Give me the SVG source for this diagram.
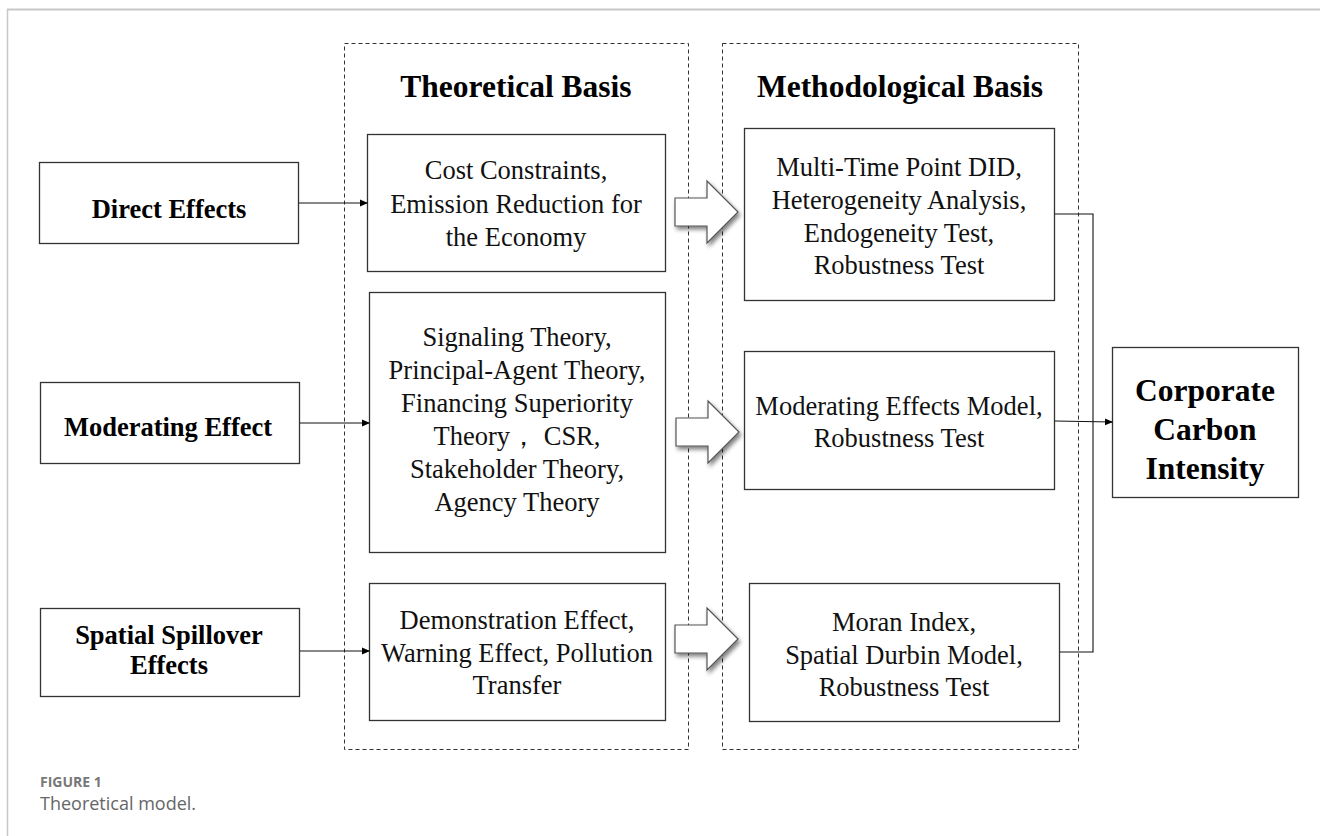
<svg xmlns="http://www.w3.org/2000/svg" width="1320" height="836" viewBox="0 0 1320 836">
<defs>
<marker id="ah" markerWidth="8" markerHeight="8" refX="7" refY="4" orient="auto" markerUnits="userSpaceOnUse">
<path d="M0,0.5 L8,4 L0,7.5 Z" fill="#000"/>
</marker>
<filter id="sh" x="-20%" y="-20%" width="150%" height="150%">
<feGaussianBlur in="SourceAlpha" stdDeviation="2"/>
<feOffset dx="2" dy="3" result="b"/>
<feComponentTransfer><feFuncA type="linear" slope="0.5"/></feComponentTransfer>
<feMerge><feMergeNode/><feMergeNode in="SourceGraphic"/></feMerge>
</filter>
<path id="barrow" d="M0,-14 L32,-14 L32,-31 L63,0 L32,31 L32,14 L0,14 Z"/>
</defs>
<style>
.box{fill:#fff;stroke:#333;stroke-width:1.3}
.dash{fill:none;stroke:#333;stroke-width:1;stroke-dasharray:4,3}
.t{font-family:"Liberation Serif","Times New Roman",serif;font-size:26.5px;fill:#111;text-anchor:middle}
.b{font-family:"Liberation Serif","Times New Roman",serif;font-weight:bold;font-size:26.5px;fill:#000;text-anchor:middle}
.h{font-family:"Liberation Serif","Times New Roman",serif;font-weight:bold;font-size:31.5px;fill:#000;text-anchor:middle}
.c{font-family:"Liberation Serif","Times New Roman",serif;font-weight:bold;font-size:31.5px;fill:#000;text-anchor:middle}
.ln{fill:none;stroke:#111;stroke-width:1.1}
.ba{fill:#fff;stroke:#555;stroke-width:1.2}
</style>
<rect width="1320" height="836" fill="#fff"/>
<line x1="7" y1="9.5" x2="1320" y2="9.5" stroke="#c8c8c8" stroke-width="2"/>
<line x1="7.5" y1="9" x2="7.5" y2="836" stroke="#c8c8c8" stroke-width="1.5"/>

<g id="panel-theory">
<rect class="dash" x="344.5" y="43.5" width="344" height="706"/>
<text class="h" x="516" y="97">Theoretical Basis</text>
</g>
<g id="panel-method">
<rect class="dash" x="722.5" y="43.5" width="356" height="706"/>
<text class="h" x="900" y="97">Methodological Basis</text>
</g>

<g id="direct-effects">
<rect class="box" x="39.5" y="162.5" width="259" height="81"/>
<text class="b" x="169" y="218">Direct Effects</text>
</g>
<g id="moderating-effect">
<rect class="box" x="40.5" y="382.5" width="259" height="81"/>
<text class="b" x="168" y="436">Moderating Effect</text>
</g>
<g id="spatial-spillover">
<rect class="box" x="40.5" y="608.5" width="259" height="88"/>
<text class="b" x="169" y="644">Spatial Spillover</text>
<text class="b" x="169" y="674">Effects</text>
</g>

<g id="theory-1">
<rect class="box" x="367.5" y="134.5" width="298" height="137"/>
<text class="t" x="516" y="179">Cost Constraints,</text>
<text class="t" x="516" y="213">Emission Reduction for</text>
<text class="t" x="516" y="246">the Economy</text>
</g>
<g id="theory-2">
<rect class="box" x="369.5" y="292.5" width="296" height="260"/>
<text class="t" x="517" y="346">Signaling Theory,</text>
<text class="t" x="517" y="379">Principal-Agent Theory,</text>
<text class="t" x="517" y="412">Financing Superiority</text>
<text class="t" x="517" y="445">Theory， CSR,</text>
<text class="t" x="517" y="478">Stakeholder Theory,</text>
<text class="t" x="517" y="511">Agency Theory</text>
</g>
<g id="theory-3">
<rect class="box" x="369.5" y="583.5" width="296" height="137"/>
<text class="t" x="517" y="629">Demonstration Effect,</text>
<text class="t" x="517" y="662">Warning Effect, Pollution</text>
<text class="t" x="517" y="694">Transfer</text>
</g>

<g id="method-1">
<rect class="box" x="744.5" y="128.5" width="310" height="172"/>
<text class="t" x="899" y="176">Multi-Time Point DID,</text>
<text class="t" x="899" y="209">Heterogeneity Analysis,</text>
<text class="t" x="899" y="242">Endogeneity Test,</text>
<text class="t" x="899" y="274">Robustness Test</text>
</g>
<g id="method-2">
<rect class="box" x="744.5" y="351.5" width="310" height="138"/>
<text class="t" x="899" y="415">Moderating Effects Model,</text>
<text class="t" x="899" y="447">Robustness Test</text>
</g>
<g id="method-3">
<rect class="box" x="749.5" y="583.5" width="310" height="138"/>
<text class="t" x="904" y="631">Moran Index,</text>
<text class="t" x="904" y="664">Spatial Durbin Model,</text>
<text class="t" x="904" y="696">Robustness Test</text>
</g>

<g id="corporate-carbon-intensity">
<rect class="box" x="1112.5" y="347.5" width="186" height="150"/>
<text class="c" x="1205" y="401">Corporate</text>
<text class="c" x="1205" y="440">Carbon</text>
<text class="c" x="1205" y="479">Intensity</text>
</g>

<g id="connectors">
<line class="ln" x1="299" y1="203" x2="367" y2="203" marker-end="url(#ah)"/>
<line class="ln" x1="300" y1="423" x2="369" y2="423" marker-end="url(#ah)"/>
<line class="ln" x1="300" y1="651" x2="369" y2="651" marker-end="url(#ah)"/>
<polyline class="ln" points="1055,214 1093,214 1093,652 1060,652"/>
<line class="ln" x1="1055" y1="421" x2="1112" y2="422" marker-end="url(#ah)"/>
<use href="#barrow" class="ba" filter="url(#sh)" x="675" y="212"/>
<use href="#barrow" class="ba" filter="url(#sh)" x="676" y="432"/>
<use href="#barrow" class="ba" filter="url(#sh)" x="675" y="639"/>
</g>

<g id="caption">
<text x="40" y="787" font-family="'Open Sans','Noto Sans',sans-serif" font-weight="bold" font-size="14" fill="#777">FIGURE 1</text>
<text x="40" y="810" font-family="'Open Sans','Noto Sans',sans-serif" font-size="18" fill="#666">Theoretical model.</text>
</g>
</svg>
